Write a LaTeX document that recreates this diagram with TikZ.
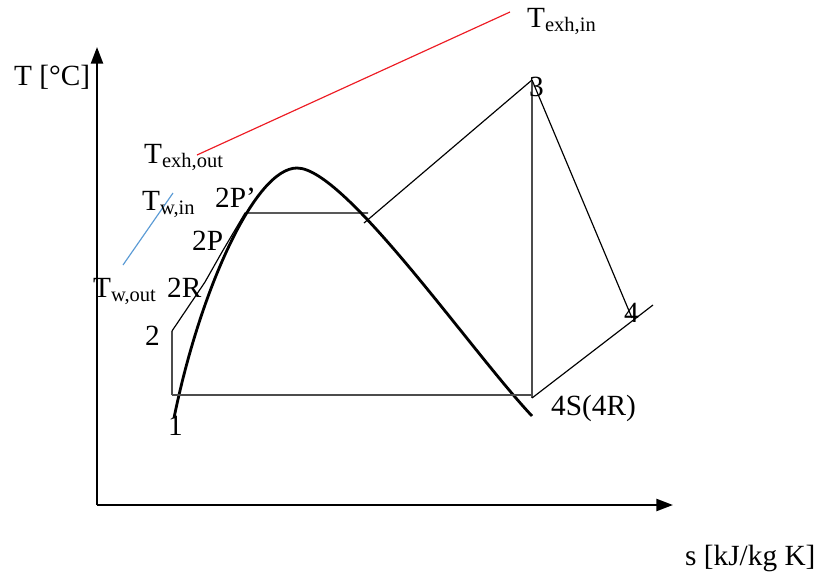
\documentclass[tikz,border=0pt]{standalone}
\usepackage{fontspec}
\setmainfont{Liberation Serif}
\usetikzlibrary{arrows.meta}
\tikzset{
  lbl/.style={anchor=base west,inner sep=0pt,font=\fontsize{25}{30}\selectfont},
  axis/.style={line width=2pt,-{Triangle[length=5mm,width=3.6mm]}},
  cyc/.style={line width=1pt},
  dome/.style={line width=2.4pt}
}
\definecolor{exhred}{RGB}{237,28,36}
\definecolor{wblue}{RGB}{91,155,213}

\begin{document}
\begin{tikzpicture}[x=0.03cm,y=-0.03cm]
  \useasboundingbox (0,0) rectangle (830,578);

  % axes
  \coordinate (o) at (97,505);
  \coordinate (ytop) at (97,47);
  \coordinate (xend) at (673,505);
  \draw[axis] (o) -- (ytop);
  \draw[axis] (o) -- (xend);
  \node[lbl] (ylab) at (14,85) {T [°C]};
  \node[lbl] (xlab) at (685,565) {s [kJ/kg K]};

  % cycle points
  \coordinate (p1) at (172,395);
  \coordinate (p2) at (172,331);
  \coordinate (p2r) at (205,282);
  \coordinate (p2p) at (222,252);
  \coordinate (p2pp) at (245,213);
  \coordinate (pv) at (368,213);
  \coordinate (pv0) at (364,223);
  \coordinate (p3) at (532,80);
  \coordinate (p4) at (632,318);
  \coordinate (p4s) at (532,398);
  \coordinate (p4e) at (653,305);
  \coordinate (pb) at (532,395);

  % saturation dome
  \coordinate (dl) at (174,418);
  \coordinate (dtop) at (297,168);
  \coordinate (dr) at (532,416);
  \draw[dome] (dl) .. controls (200,290) and (255,168) .. (dtop)
    .. controls (345,168) and (470,350) .. (dr);

  % cycle
  \draw[cyc,black!70] (p1) -- (p2);
  \draw[cyc] (p2) -- (p2r) -- (p2p) -- (p2pp) -- (pv);
  \draw[cyc] (pv0) -- (p3);
  \draw[cyc,black!70] (p3) -- (p4s);
  \draw[cyc] (p3) -- (p4);
  \draw[cyc] (p4s) -- (p4e);
  \draw[cyc,black!70] (p1) -- (pb);

  % heat source and sink
  \coordinate (exhout) at (197,155);
  \coordinate (exhin) at (510,12);
  \coordinate (wout) at (123,265);
  \coordinate (win) at (173,193);
  \draw[exhred,line width=1pt] (exhout) -- (exhin);
  \draw[wblue,line width=1pt] (wout) -- (win);

  % labels
  \node[lbl] (lexhin) at (527,27) {T\textsubscript{exh,in}};
  \node[lbl] (lexhout) at (144,163) {T\textsubscript{exh,out}};
  \node[lbl] (lwin) at (142,210) {T\textsubscript{w,in}};
  \node[lbl] (lwout) at (93,297) {T\textsubscript{w,out}};
  \node[lbl] (l2pp) at (215,207) {2P'};
  \node[lbl] (l2p) at (192,250) {2P};
  \node[lbl] (l2r) at (167,297) {2R};
  \node[lbl] (l2) at (145,345) {2};
  \node[lbl] (l1) at (168,435) {1};
  \node[lbl] (l3) at (529,96) {3};
  \node[lbl] (l4) at (624,322) {4};
  \node[lbl] (l4s) at (551,415) {4S(4R)};
\end{tikzpicture}
\end{document}
